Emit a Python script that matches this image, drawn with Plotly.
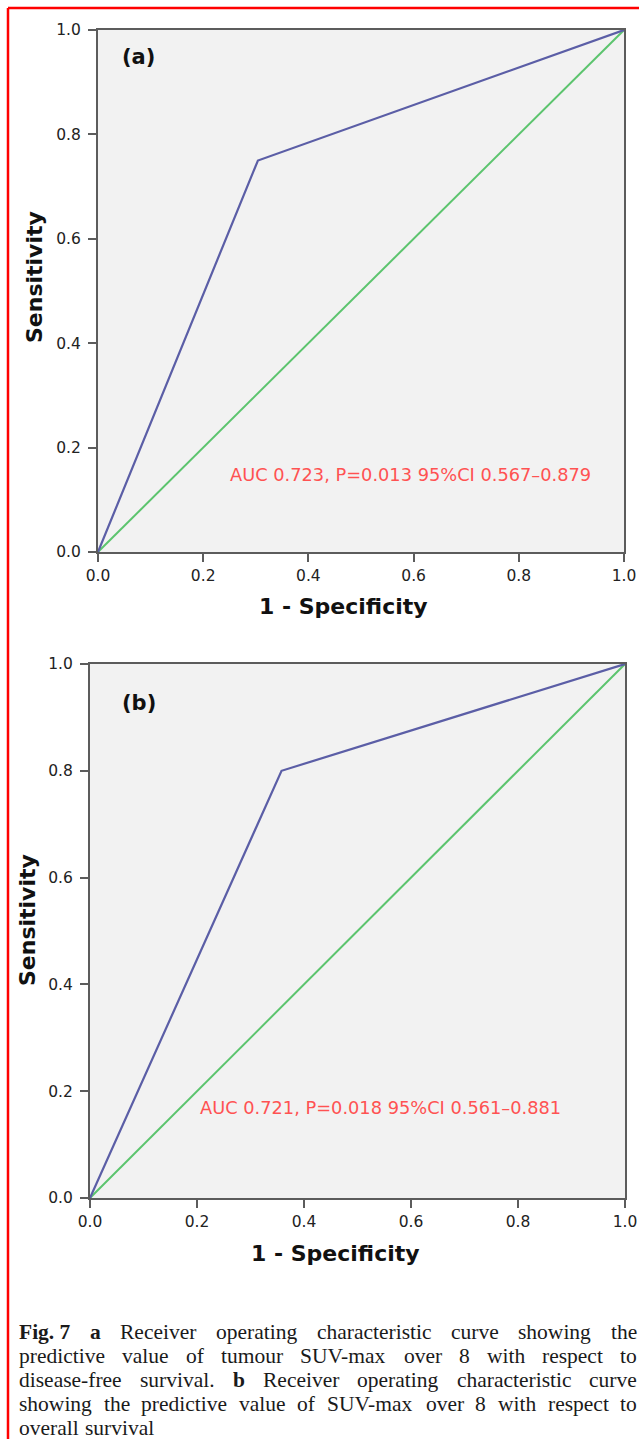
import plotly.graph_objects as go

W, H = 639, 1439

# ROC curves (1 - specificity, sensitivity)
fpr_a = [0.0, 0.304, 1.0]
tpr_a = [0.0, 0.75, 1.0]
fpr_b = [0.0, 0.358, 1.0]
tpr_b = [0.0, 0.80, 1.0]
ref_x = [0.0, 1.0]
ref_y = [0.0, 1.0]

tick_vals = [0.0, 0.2, 0.4, 0.6, 0.8, 1.0]
tick_text = ["0.0", "0.2", "0.4", "0.6", "0.8", "1.0"]

panel_labels = ["(a)", "(b)"]
stats_a = "AUC 0.723, P=0.013 95%CI 0.567\u20130.879"
stats_b = "AUC 0.721, P=0.018 95%CI 0.561\u20130.881"
x_title = "1 - Specificity"
y_title = "Sensitivity"

# caption lines: (text, bold?) tokens
caption_lines = [
    [("Fig. 7", True), ("a", True), ("Receiver", False), ("operating", False),
     ("characteristic", False), ("curve", False), ("showing", False), ("the", False)],
    [("predictive", False), ("value", False), ("of", False), ("tumour", False),
     ("SUV-max", False), ("over", False), ("8", False), ("with", False),
     ("respect", False), ("to", False)],
    [("disease-free", False), ("survival.", False), ("b", True), ("Receiver", False),
     ("operating", False), ("characteristic", False), ("curve", False)],
    [("showing", False), ("the", False), ("predictive", False), ("value", False),
     ("of", False), ("SUV-max", False), ("over", False), ("8", False),
     ("with", False), ("respect", False), ("to", False)],
    [("overall", False), ("survival", False)],
]


def px(x):
    return x / W


def py(y):
    return 1 - y / H


# Times-compatible advance widths (per 1000 em) for justification
TIMES = {
    'a': 444, 'b': 500, 'c': 444, 'd': 500, 'e': 444, 'f': 333, 'g': 500, 'h': 500,
    'i': 278, 'j': 278, 'k': 500, 'l': 278, 'm': 778, 'n': 500, 'o': 500, 'p': 500,
    'q': 500, 'r': 333, 's': 389, 't': 278, 'u': 500, 'v': 500, 'w': 722, 'x': 500,
    'y': 500, 'z': 444, 'R': 667, 'S': 556, 'U': 722, 'V': 722, 'F': 556,
    '-': 333, '.': 250, ',': 250, ' ': 250, '8': 500, '7': 500,
}
TIMES_BOLD = {'F': 611, 'i': 278, 'g': 500, '.': 250, ' ': 250, '7': 500,
              'a': 500, 'b': 556}


def word_width(word, bold, size):
    table = TIMES_BOLD if bold else TIMES
    return sum(table.get(c, 500) for c in word) * size / 1000.0


fig = go.Figure()

blue = "#5b5ea6"
green = "#5cc46e"
axis_col = "#5c5c5c"

panels = [
    dict(x=fpr_a, y=tpr_a, xa="x", ya="y", xd=[98, 624], yd=[552, 30],
         label=panel_labels[0], stats=stats_a, stats_pos=(0.247, 0.149),
         label_pos=(0.042, 0.948), xt=(343, 606), yt=(34, 277)),
    dict(x=fpr_b, y=tpr_b, xa="x2", ya="y2", xd=[90, 625], yd=[1198, 664],
         label=panel_labels[1], stats=stats_b, stats_pos=(0.202, 0.169),
         label_pos=(0.056, 0.927), xt=(335, 1253), yt=(27, 920)),
]

layout_axes = {}
annotations = []
for i, p in enumerate(panels):
    fig.add_trace(go.Scatter(x=ref_x, y=ref_y, mode="lines", xaxis=p["xa"], yaxis=p["ya"],
                             line=dict(color=green, width=2), showlegend=False,
                             cliponaxis=False, hoverinfo="skip"))
    fig.add_trace(go.Scatter(x=p["x"], y=p["y"], mode="lines", xaxis=p["xa"], yaxis=p["ya"],
                             line=dict(color=blue, width=2.2), showlegend=False,
                             cliponaxis=False))
    suffix = "" if i == 0 else str(i + 1)
    common = dict(range=[0, 1], showline=True, linecolor=axis_col, linewidth=2,
                  mirror=True, ticks="outside", ticklen=8, tickwidth=2,
                  tickcolor=axis_col, showgrid=False, zeroline=False, automargin=False,
                  tickvals=tick_vals, ticktext=tick_text, fixedrange=True,
                  tickfont=dict(family="DejaVu Sans", size=15.5, color="#222222"))
    layout_axes["xaxis" + suffix] = dict(common, domain=[px(p["xd"][0]), px(p["xd"][1])],
                                         anchor="y" + suffix, ticklabelstandoff=0)
    layout_axes["yaxis" + suffix] = dict(common, domain=[py(p["yd"][0]), py(p["yd"][1])],
                                         anchor="x" + suffix, ticklabelstandoff=4)
    xref = "x" + suffix
    yref = "y" + suffix
    annotations.append(dict(x=p["label_pos"][0], y=p["label_pos"][1], xref=xref, yref=yref,
                            text="<b>%s</b>" % p["label"], showarrow=False,
                            xanchor="left", yanchor="middle",
                            font=dict(family="DejaVu Sans", size=21, color="#111111")))
    annotations.append(dict(x=p["stats_pos"][0], y=p["stats_pos"][1], xref=xref, yref=yref,
                            text=p["stats"], showarrow=False,
                            xanchor="left", yanchor="middle",
                            font=dict(family="DejaVu Sans", size=17.8, color="#ff5252")))
    annotations.append(dict(x=px(p["xt"][0]), y=py(p["xt"][1]), xref="paper", yref="paper",
                            text="<b>%s</b>" % x_title, showarrow=False,
                            xanchor="center", yanchor="middle",
                            font=dict(family="DejaVu Sans", size=22, color="#111111")))
    annotations.append(dict(x=px(p["yt"][0]), y=py(p["yt"][1]), xref="paper", yref="paper",
                            text="<b>%s</b>" % y_title, showarrow=False, textangle=-90,
                            xanchor="center", yanchor="middle",
                            font=dict(family="DejaVu Sans", size=22, color="#111111")))

# justified caption, one annotation per word
cap_size = 21.5
cap_left, cap_right = 17, 635
line_y = [1332, 1356, 1380, 1404, 1428]
for li, tokens in enumerate(caption_lines):
    widths = [word_width(t, b, cap_size) for t, b in tokens]
    last = li == len(caption_lines) - 1
    if last or len(tokens) < 2:
        gap = TIMES[' '] * cap_size / 1000.0 + 1
    else:
        gap = (cap_right - cap_left - sum(widths)) / (len(tokens) - 1)
    x = cap_left
    for (t, b), w in zip(tokens, widths):
        annotations.append(dict(x=px(x), y=py(line_y[li]), xref="paper", yref="paper",
                                text=("<b>%s</b>" % t) if b else t, showarrow=False,
                                xanchor="left", yanchor="middle",
                                font=dict(family="Liberation Serif", size=cap_size,
                                          color="#1a1a1a")))
        x += w + gap

shapes = [
    dict(type="line", xref="paper", yref="paper", x0=px(8), x1=1.0, y0=py(8), y1=py(8),
         line=dict(color="#ff0000", width=2.5)),
    dict(type="line", xref="paper", yref="paper", x0=px(8), x1=px(8), y0=py(8), y1=0.0,
         line=dict(color="#ff0000", width=2.5)),
]

fig.update_layout(
    width=W, height=H,
    margin=dict(l=0, r=0, t=0, b=0, autoexpand=False),
    paper_bgcolor="white",
    plot_bgcolor="#f2f2f2",
    annotations=annotations,
    shapes=shapes,
    **layout_axes,
)

fig.write_html("out.html")
